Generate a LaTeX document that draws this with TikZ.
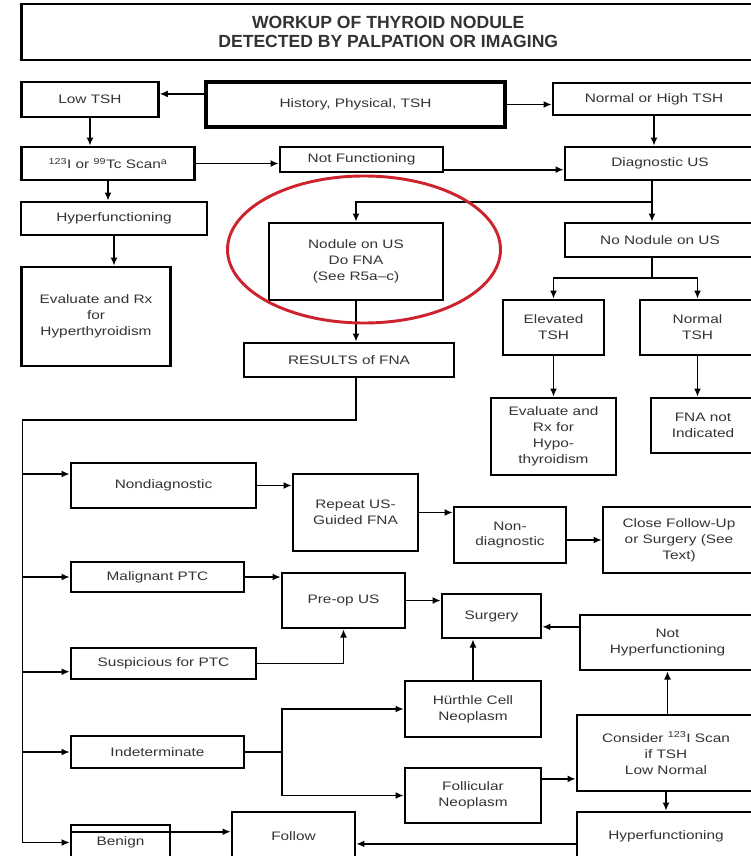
\documentclass[tikz,border=0pt]{standalone}
\usepackage{fontspec}
\setmainfont{Liberation Sans}[FakeStretch=1.25]
\newfontfamily\titulo{Liberation Sans}
\usepackage{tikz}
\usetikzlibrary{calc,arrows.meta}
\usepackage{xcolor}
\definecolor{circulo}{RGB}{205,35,45}

\begin{document}
\begin{tikzpicture}[x=0.03cm,y=-0.03cm,line width=1.6pt,black]
	\tikzset{caja/.style={draw=black,rectangle,fill=white,line width=2.2pt,inner sep=2pt,align=center,text=black!80,font=\fontsize{10.5}{13.5}\selectfont},
		flecha/.style={-{Latex[length=7pt,width=6pt]},line width=1.6pt}}
	\useasboundingbox (0,0) rectangle (751,856);
	\node[caja,minimum width=22cm,minimum height=1.68cm,font=\fontsize{15}{16.5}\titulo\bfseries] at (388.25,32) (cabecera){WORKUP OF THYROID NODULE\\DETECTED BY PALPATION OR IMAGING};
	\node[caja,minimum width=4.1cm,minimum height=1.05cm] at (90,99.5) (low){Low TSH};
	\node[caja,line width=3.4pt,minimum width=8.97cm,minimum height=1.35cm] at (355.5,104.5) (hist){History, Physical, TSH};
	\node[caja,minimum width=6.06cm,minimum height=0.96cm] at (654,99) (norm){Normal or High TSH};
	\node[caja,minimum width=5.2cm,minimum height=0.99cm] at (108,163.5) (scan){\textsuperscript{123}I or \textsuperscript{99}Tc Scan\textsuperscript{a}};
	\node[caja,minimum width=4.89cm,minimum height=0.75cm] at (361.5,159.5) (notf){Not Functioning};
	\node[caja,minimum width=5.7cm,minimum height=0.99cm] at (660,163.5) (diag){Diagnostic US};
	\node[caja,minimum width=5.57cm,minimum height=0.99cm] at (114,218.5) (hyper){Hyperfunctioning};
	\node[caja,minimum width=4.46cm,minimum height=2.97cm] at (96,316.5) (evalhyper){Evaluate and Rx\\for\\Hyperthyroidism};
	\node[caja,minimum width=5.22cm,minimum height=2.31cm] at (356,261.5) (nodule){Nodule on US\\Do FNA\\(See R5a--c)};
	\node[caja,minimum width=5.7cm,minimum height=1.02cm] at (660,240) (nonod){No Nodule on US};
	\node[caja,minimum width=3.03cm,minimum height=1.65cm] at (553.5,327.5) (elev){Elevated\\TSH};
	\node[caja,minimum width=3.45cm,minimum height=1.65cm] at (697.5,327.5) (normtsh){Normal\\TSH};
	\node[caja,minimum width=3.75cm,minimum height=2.31cm] at (553.5,436.5) (evalhypo){Evaluate and\\Rx for\\Hypo-\\thyroidism};
	\node[caja,minimum width=3.12cm,minimum height=1.65cm] at (703,425.5) (fnanot){FNA not\\Indicated};
	\node[caja,minimum width=6.3cm,minimum height=1.02cm] at (349,360) (results){RESULTS of FNA};
	\node[caja,minimum width=5.55cm,minimum height=1.35cm] at (163.5,485.5) (nondiag){Nondiagnostic};
	\node[caja,minimum width=3.75cm,minimum height=2.31cm] at (355.5,512.5) (rep){Repeat US-\\Guided FNA};
	\node[caja,minimum width=3.36cm,minimum height=1.68cm] at (510,535) (nondiagb){Non-\\diagnostic};
	\node[caja,minimum width=4.56cm,minimum height=1.98cm] at (679,540) (closefu){Close Follow-Up\\or Surgery (See\\Text)};
	\node[caja,minimum width=5.19cm,minimum height=0.9cm] at (157.5,577) (malig){Malignant PTC};
	\node[caja,minimum width=3.69cm,minimum height=1.65cm] at (343.5,600.5) (preop){Pre-op US};
	\node[caja,minimum width=2.97cm,minimum height=1.32cm] at (491.5,616) (surg){Surgery};
	\node[caja,minimum width=5.25cm,minimum height=1.65cm] at (667.5,642.5) (nothyper){Not\\Hyperfunctioning};
	\node[caja,minimum width=5.55cm,minimum height=0.93cm] at (163.5,663.5) (susp){Suspicious for PTC};
	\node[caja,minimum width=4.08cm,minimum height=1.68cm] at (473,709) (hurthle){Hürthle Cell\\Neoplasm};
	\node[caja,minimum width=5.19cm,minimum height=0.96cm] at (157.5,752) (indet){Indeterminate};
	\node[caja,minimum width=4.08cm,minimum height=1.65cm] at (473,795.5) (follic){Follicular\\Neoplasm};
	\node[caja,minimum width=5.34cm,minimum height=2.28cm] at (666,753) (consider){Consider \textsuperscript{123}I Scan\\if TSH\\Low Normal};
	\node[caja,minimum width=5.34cm,minimum height=1.44cm] at (666,836) (hyperb){Hyperfunctioning};
	\node[caja,minimum width=3.69cm,minimum height=1.44cm] at (293.5,836) (follow){Follow};
	\node[caja,minimum width=2.97cm,minimum height=1.05cm] at (120.5,842.5) (benign){Benign};
	% top part
	\draw[flecha] (hist.176) -- (hist.176 -| low.east);
	\draw[flecha] (hist.east) -- (hist.east -| norm.west);
	\draw[flecha] (low.south) -- (low.south |- scan.north);
	\draw[flecha] (norm.south) -- (norm.south |- diag.north);
	\draw[flecha] (scan.east) -- (scan.east -| notf.west);
	\draw[flecha] (notf.353) -- (notf.353 -| diag.west);
	\draw[flecha] (scan.south) -- (scan.south |- hyper.north);
	\draw[flecha] (hyper.south) -- (hyper.south |- evalhyper.north);
	\coordinate (div1) at (652,202);
	\draw[flecha] (diag.south -| div1) -- (nonod.north -| div1);
	\draw[flecha] (div1) -| (nodule.north);
	\coordinate (div2) at (652,278);
	\draw (nonod.south -| div2) -- (div2);
	\draw[flecha] (div2) -| (elev.north);
	\draw[flecha] (div2) -| (normtsh.north);
	\draw[flecha] (elev.south) -- (evalhypo.north);
	\draw[flecha] (normtsh.south) -- (normtsh.south |- fnanot.north);
	\draw[flecha] (nodule.south) -- (nodule.south |- results.north);
	% results of FNA
	\coordinate (tronco) at (22.5,420);
	\draw (nodule.south |- results.south) |- (tronco) -- (tronco |- benign.west);
	\draw[flecha] (tronco |- nondiag.173) -- (nondiag.173);
	\draw[flecha] (tronco |- malig.west) -- (malig.west);
	\draw[flecha] (tronco |- susp.185) -- (susp.185);
	\draw[flecha] (tronco |- indet.west) -- (indet.west);
	\draw[flecha] (tronco |- benign.west) -- (benign.west);
	\draw[flecha] (nondiag.east) -- (nondiag.east -| rep.west);
	\draw[flecha] (rep.east) -- (rep.east -| nondiagb.west);
	\draw[flecha] (nondiagb.east |- closefu.west) -- (closefu.west);
	\draw[flecha] (malig.east) -- (malig.east -| preop.west);
	\draw[flecha] (preop.east) -- (preop.east -| surg.west);
	\draw[flecha] (susp.east) -| (preop.south);
	\draw[flecha] (nothyper.170) -- (nothyper.170 -| surg.east);
	\draw[flecha] (hurthle.north) -- (hurthle.north |- surg.south);
	\coordinate (div3) at (282,752);
	\draw (indet.east) -- (div3);
	\draw[flecha] (div3) |- (hurthle.west);
	\draw[flecha] (div3) |- (follic.west);
	\draw[flecha] (follic.east |- consider.196) -- (consider.196);
	\draw[flecha] (consider.north -| nothyper.south) -- (nothyper.south);
	\draw[flecha] (consider.south) -- (consider.south |- hyperb.north);
	\draw[flecha] (hyperb.185) -- (hyperb.185 -| follow.east);
	\draw[flecha] (benign.168) -- (benign.168 -| follow.west);
	% red mark
	\draw[circulo,line width=2.5pt] (364,249.5) ellipse [x radius=136.5,y radius=73.5];
\end{tikzpicture}
\end{document}
